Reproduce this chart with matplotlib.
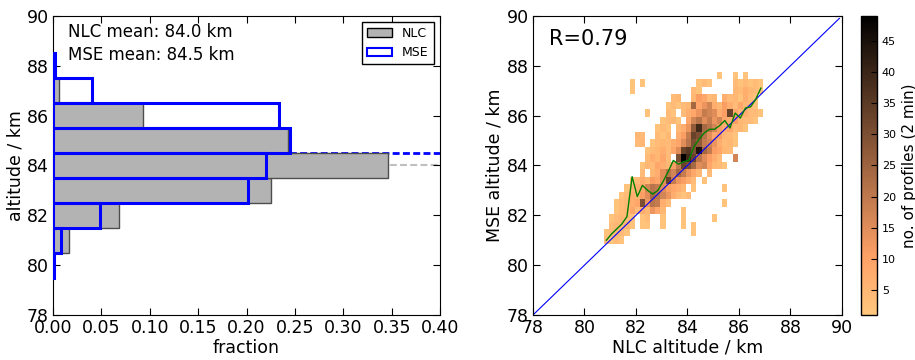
import numpy as np
import matplotlib
matplotlib.use("Agg")
import matplotlib.pyplot as plt
from matplotlib.patches import Patch

# altitude histograms, 1 km bins (bin centres)
alt_centres = np.array([80, 81, 82, 83, 84, 85, 86, 87, 88])
nlc_frac = np.array([0.0, 0.0166, 0.068, 0.225, 0.346, 0.243, 0.093, 0.0062, 0.0])
mse_frac = np.array([0.001, 0.0086, 0.048, 0.201, 0.2197, 0.245, 0.234, 0.0407, 0.0017])
nlc_mean = 84.0
mse_mean = 84.5
r_value = 0.79

# 2d histogram: NLC altitude bins 0.2 km, MSE altitude bins 0.3 km
x_edges = np.round(80.75 + 0.2 * np.arange(32), 2)
y_edges = np.round(80.85 + 0.3 * np.arange(24), 2)

# counts per cell, one character per cell, top row first
level = {'.': 0, '1': 1, '2': 2, '3': 4, '4': 5, '5': 7, '6': 9, '7': 11, '8': 13,
         '9': 15, 'a': 17, 'b': 19, 'c': 21, 'd': 24, 'e': 27, 'f': 30, 'g': 33,
         'h': 36, 'i': 39, 'j': 42, 'k': 44, 'm': 46, 'n': 49}
count_rows = [
    "......................2..2.2...",
    ".....2.2..........232....323232",
    ".....2...........32......435432",
    ".............34..47634.5342532.",
    "............23234d68a547536432.",
    "........2...32.3568ba957g645332",
    "...........2342.6ac9b8a6574332.",
    "..........232.458eidca756342...",
    "......43..324.57bgfc967432.....",
    "......34.2343569cfeba85342.....",
    "........2345369ghfkdb7643......",
    "........35463.fnigc9753..a.....",
    ".......2436547bgfd9a6432.......",
    ".......3.459cadb864.3..........",
    ".....2354769gb8753.2...........",
    "....2456acb97654.2.....2.......",
    "...235479dca85323..............",
    "..23456f8cb53..........2.......",
    "..2346354864...2...............",
    ".23432.23..2...2.....2.........",
    ".34342.22..2...2.2.............",
    "23432............2.............",
    "3232...........................",
]

# mean MSE altitude for each NLC bin (green line)
mean_mse = [81.0, 81.25, 81.45, 81.65, 81.95, 83.55, 82.75, 83.2, 83.0, 82.85,
            83.0, 83.35, 83.75, 84.2, 84.05, 84.15, 84.2, 84.75, 85.05, 85.3,
            85.45, 85.45, 85.6, 85.8, 85.5, 86.1, 85.9, 86.3, 86.35, 86.65, 87.1]

counts = np.array([[level[ch] for ch in row.ljust(31, '.')[:31]] for row in count_rows[::-1]])
counts = np.ma.masked_equal(counts, 0)
x_centres = 0.5 * (x_edges[:-1] + x_edges[1:])

fs = 12.5
fig = plt.figure(figsize=(9.15, 3.6), dpi=100)
ax1 = fig.add_axes([0.058, 0.125, 0.423, 0.831])
ax2 = fig.add_axes([0.5825, 0.125, 0.3377, 0.831])
cax = fig.add_axes([0.941, 0.125, 0.0175, 0.831])

# left: histograms
m = nlc_frac > 0
ax1.barh(alt_centres[m], nlc_frac[m], height=1, color='0.7', edgecolor='0.3', linewidth=1, zorder=2)
ax1.barh(alt_centres, mse_frac, height=1, fill=False, edgecolor='blue', linewidth=2.2, zorder=3)
ax1.axhline(mse_mean, color='blue', ls='--', lw=2, dashes=(2.5, 1.2), zorder=1)
ax1.axhline(nlc_mean, color='0.75', ls='--', lw=1.5, dashes=(3.3, 1.6), zorder=1)
ax1.set_xlim(0, 0.4)
ax1.set_ylim(78, 90)
ax1.set_xticks(np.arange(0, 0.401, 0.05))
ax1.set_xticklabels(['%.2f' % t for t in np.arange(0, 0.401, 0.05)])
ax1.set_yticks(range(78, 91, 2))
ax1.set_xlabel('fraction', fontsize=fs, labelpad=1)
ax1.set_ylabel('altitude / km', fontsize=fs, labelpad=2)
ax1.text(0.039, 0.975, 'NLC mean: %.1f km\nMSE mean: %.1f km' % (nlc_mean, mse_mean),
         transform=ax1.transAxes, fontsize=12, va='top', ha='left', linespacing=1.3)
handles = [Patch(facecolor='0.7', edgecolor='black', label='NLC'),
           Patch(facecolor='white', edgecolor='blue', linewidth=1.5, label='MSE')]
leg = ax1.legend(handles=handles, loc='upper right', fontsize=9, fancybox=False,
                 framealpha=1, edgecolor='black', borderaxespad=0.5)
leg.get_frame().set_linewidth(1)

# right: 2d histogram
mesh = ax2.pcolormesh(x_edges, y_edges, counts, cmap='copper_r', vmin=1, vmax=49)
ax2.plot([78, 89.9], [78, 89.9], color='blue', lw=0.8)
ax2.plot(x_centres, mean_mse, color='green', lw=1)
ax2.set_xlim(78, 90)
ax2.set_ylim(78, 90)
ax2.set_xticks(range(78, 91, 2))
ax2.set_yticks(range(78, 91, 2))
ax2.set_xlabel('NLC altitude / km', fontsize=fs, labelpad=1)
ax2.set_ylabel('MSE altitude / km', fontsize=fs, labelpad=2)
ax2.text(0.052, 0.955, 'R=%.2f' % r_value, transform=ax2.transAxes, fontsize=15, va='top')

for ax in (ax1, ax2):
    ax.tick_params(direction='in', top=True, right=True, labelsize=fs, length=5, pad=3)

cb = fig.colorbar(mesh, cax=cax, ticks=range(5, 50, 5))
cb.ax.tick_params(labelsize=8, direction='in', length=4)
cb.set_label('no. of profiles (2 min)', fontsize=11)
cb.outline.set_linewidth(1)

fig.savefig('out.png', dpi=100)
